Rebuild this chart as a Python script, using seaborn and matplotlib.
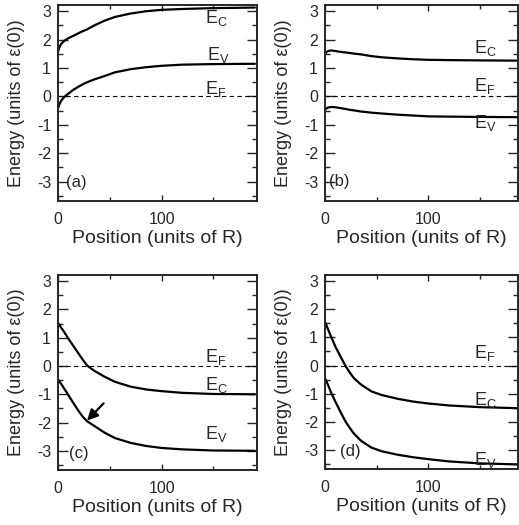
import matplotlib
matplotlib.use("Agg")
import matplotlib.pyplot as plt
from matplotlib.ticker import MultipleLocator
import seaborn as sns
import pandas as pd

# position grid (units of R)
position = [0, 1, 3, 6, 10, 15, 20, 24, 28, 35, 45, 55, 70, 85, 100, 120, 150, 190]

# band edges, units of eps(0)
ec_a = [1.57, 1.70, 1.85, 1.96, 2.05, 2.14, 2.23, 2.30, 2.36, 2.50, 2.67, 2.80, 2.92, 3.00, 3.05, 3.08, 3.11, 3.13]
ev_a = [-0.43, -0.30, -0.15, -0.02, 0.10, 0.24, 0.35, 0.43, 0.50, 0.60, 0.72, 0.85, 0.96, 1.03, 1.08, 1.12, 1.14, 1.15]
ec_b = [1.50, 1.55, 1.60, 1.62, 1.60, 1.57, 1.55, 1.53, 1.51, 1.48, 1.42, 1.38, 1.34, 1.31, 1.29, 1.28, 1.27, 1.26]
ev_b = [-0.47, -0.43, -0.39, -0.37, -0.38, -0.41, -0.44, -0.47, -0.49, -0.53, -0.57, -0.60, -0.64, -0.67, -0.70, -0.71, -0.72, -0.73]
ec_c = [1.52, 1.47, 1.36, 1.20, 0.97, 0.70, 0.43, 0.22, 0.02, -0.17, -0.38, -0.56, -0.73, -0.83, -0.89, -0.95, -0.99, -1.00]
ev_c = [-0.48, -0.53, -0.63, -0.80, -1.03, -1.32, -1.60, -1.80, -1.95, -2.12, -2.36, -2.55, -2.72, -2.83, -2.90, -2.95, -2.99, -3.00]
ec_d = [1.55, 1.47, 1.28, 1.02, 0.68, 0.32, -0.02, -0.25, -0.45, -0.68, -0.92, -1.05, -1.18, -1.28, -1.35, -1.42, -1.48, -1.52]
ev_d = [-0.45, -0.53, -0.70, -0.97, -1.28, -1.65, -2.00, -2.22, -2.42, -2.68, -2.92, -3.05, -3.17, -3.26, -3.33, -3.41, -3.48, -3.52]

panel_tags = ["(a)", "(b)", "(c)", "(d)"]
level_labels = [r"$\mathrm{E_C}$", r"$\mathrm{E_V}$", r"$\mathrm{E_F}$"]

sns.set_style("ticks")
plt.rcParams["font.family"] = ["Liberation Sans", "DejaVu Sans"]
plt.rcParams["mathtext.fontset"] = "custom"
plt.rcParams["mathtext.rm"] = "Liberation Sans"
plt.rcParams["axes.linewidth"] = 1.4
plt.rcParams["axes.unicode_minus"] = False

W, H = 519, 525
fig = plt.figure(figsize=(W / 100, H / 100), dpi=100)

# pixel boxes: left, top, right, bottom
boxes = [(58, 5, 257, 201), (325, 5, 518, 201),
         (58, 275, 257, 470), (325, 275, 518, 469)]
xmax = [192, 187, 192, 187]
ylabel_edge = [25, 292, 25, 292]
panels = [(ec_a, ev_a), (ec_b, ev_b), (ec_c, ev_c), (ec_d, ev_d)]
# label spots (x, y) for E_C, E_V, E_F and panel tag
label_xy = [
    [(142, 2.59), (144, 1.30), (142, 0.10), (8, -3.03)],
    [(144, 1.54), (144, -1.11), (144, 0.20), (3.5, -3.0)],
    [(142, -0.85), (142, -2.60), (142, 0.15), (11, -3.1)],
    [(144, -1.41), (144, -3.53), (144, 0.27), (15, -3.06)],
]

for i, (box, (ec, ev)) in enumerate(zip(boxes, panels)):
    l, t, r, b = box
    ax = fig.add_axes([l / W, 1 - b / H, (r - l) / W, (b - t) / H])
    df = pd.DataFrame({"pos": position * 2, "E": ec + ev,
                       "band": ["C"] * len(ec) + ["V"] * len(ev)})
    sns.lineplot(data=df, x="pos", y="E", units="band", estimator=None,
                 color="black", lw=1.6, ax=ax)
    ax.axhline(0, color="black", lw=0.8, dashes=(4, 3))
    ax.set_xlim(0, xmax[i])
    ax.set_ylim(-3.68, 3.22)
    ax.xaxis.set_major_locator(MultipleLocator(100))
    ax.xaxis.set_minor_locator(MultipleLocator(50))
    ax.yaxis.set_major_locator(MultipleLocator(1))
    ax.yaxis.set_minor_locator(MultipleLocator(0.5))
    ax.tick_params(which="both", direction="in", top=True, right=True,
                   width=1, labelsize=11.5)
    ax.tick_params(axis="y", which="major", length=7, pad=5)
    ax.tick_params(axis="y", which="minor", length=3.5)
    ax.tick_params(axis="x", which="major", length=4, pad=8)
    ax.tick_params(axis="x", which="minor", length=3)
    ax.set_xlabel("Position (units of R)", fontsize=14)
    ax.set_ylabel("Energy (units of ε(0))", fontsize=13)
    ax.xaxis.set_label_coords(0.5, -29 / (b - t))
    ax.yaxis.set_label_coords((ylabel_edge[i] - l) / (r - l), 0.5)

    lxy = label_xy[i]
    for (x, y), lab in zip(lxy[:3], level_labels):
        ax.text(x, y, lab, fontsize=13, ha="left", va="baseline")
    ax.text(lxy[3][0], lxy[3][1], panel_tags[i], fontsize=12,
            ha="left", va="center")
    if i == 2:
        ax.annotate("", xy=(28, -1.93), xytext=(44, -1.32),
                    arrowprops=dict(arrowstyle="-|>", color="black",
                                    lw=1.6, mutation_scale=16,
                                    shrinkA=0, shrinkB=0))

fig.savefig("out.png", dpi=100)
